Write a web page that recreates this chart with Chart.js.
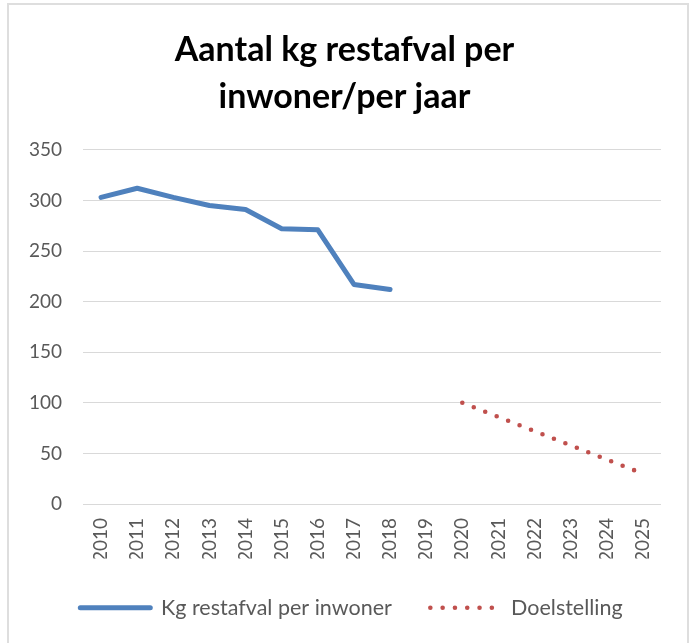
<!DOCTYPE html>
<html>
<head>
<meta charset="utf-8">
<script src="https://cdn.jsdelivr.net/npm/chart.js@4.4.1/dist/chart.umd.min.js"></script>
<style>
  html, body { margin: 0; padding: 0; background: #ffffff; }
  #frame { position: absolute; left: 7px; top: 3px; width: 682px; height: 660px; border: 2px solid #dedede; box-sizing: border-box; }
  #c { position: absolute; left: 0; top: 0; }
</style>
</head>
<body>
<div id="frame"></div>
<canvas id="c" width="694" height="643"></canvas>
<script>
const categories = ['2010','2011','2012','2013','2014','2015','2016','2017','2018','2019','2020','2021','2022','2023','2024','2025'];
const restafvalPerInwoner = [303, 312, 303, 295, 291, 272, 271, 217, 212, null, null, null, null, null, null, null];
const doelstelling = [null, null, null, null, null, null, null, null, null, null, 100, 86, 72, 58, 44, 30];
const seriesNames = ['Kg restafval per inwoner', 'Doelstelling'];
const titleLines = ['Aantal kg restafval per', 'inwoner/per jaar'];
const yMin = 0, yMax = 350, yStep = 50;

Chart.defaults.font.family = 'Lato';
const textGray = '#595959';

const legendShift = {
  id: 'legendShift',
  afterLayout(chart) {
    if (chart.legend) {
      chart.legend.left += 7;
      chart.legend.right += 7;
    }
  }
};

new Chart(document.getElementById('c'), {
  type: 'line',
  plugins: [legendShift],
  data: {
    labels: categories,
    datasets: [
      {
        label: seriesNames[0],
        data: restafvalPerInwoner,
        borderColor: '#4F81BD',
        backgroundColor: '#4F81BD',
        borderWidth: 5,
        borderCapStyle: 'round',
        borderJoinStyle: 'round',
        pointRadius: 0,
        tension: 0,
        spanGaps: false
      },
      {
        label: seriesNames[1],
        data: doelstelling,
        borderColor: '#C0504D',
        backgroundColor: '#C0504D',
        borderWidth: 4.6,
        borderDash: [0, 12.3],
        borderCapStyle: 'round',
        pointRadius: 0,
        tension: 0,
        spanGaps: false
      }
    ]
  },
  options: {
    responsive: false,
    animation: false,
    layout: { padding: { left: 8, right: 13, top: 0, bottom: 14.5 } },
    plugins: {
      title: {
        display: true,
        text: titleLines,
        color: '#000000',
        font: { size: 34, weight: 'bold', lineHeight: 1.38 },
        padding: { top: 27, bottom: 29 }
      },
      legend: {
        display: true,
        position: 'bottom',
        labels: {
          usePointStyle: true,
          pointStyle: 'line',
          pointStyleWidth: 70,
          padding: 38.5,
          color: textGray,
          font: { size: 21.5 },
          generateLabels: (chart) => {
            const items = Chart.defaults.plugins.legend.labels.generateLabels(chart);
            return items.map((it) => {
              const ds = chart.data.datasets[it.datasetIndex];
              it.lineDash = ds.borderDash || [];
              it.lineCap = ds.borderCapStyle;
              it.lineWidth = ds.borderWidth;
              it.strokeStyle = ds.borderColor;
              it.fillStyle = ds.borderColor;
              it.pointStyle = 'line';
              return it;
            });
          }
        }
      },
      tooltip: { enabled: false }
    },
    scales: {
      x: {
        offset: true,
        grid: { display: false, drawTicks: false },
        border: { display: false },
        ticks: {
          autoSkip: false,
          minRotation: 90,
          maxRotation: 90,
          padding: 14,
          color: textGray,
          font: { size: 19 }
        },
        afterFit: (s) => { s.height = 54.5; }
      },
      y: {
        min: yMin,
        max: yMax,
        grid: { color: '#d9d9d9', lineWidth: 1, drawTicks: false },
        border: { display: false },
        ticks: {
          stepSize: yStep,
          padding: 21,
          color: textGray,
          font: { size: 19 }
        },
        afterFit: (s) => { s.width = 75; }
      },
      yRightSpacer: {
        type: 'linear',
        position: 'right',
        display: true,
        grid: { display: false, drawTicks: false },
        border: { display: false },
        ticks: { display: false },
        afterFit: (s) => { s.width = 20; }
      }
    }
  }
});
</script>
</body>
</html>
